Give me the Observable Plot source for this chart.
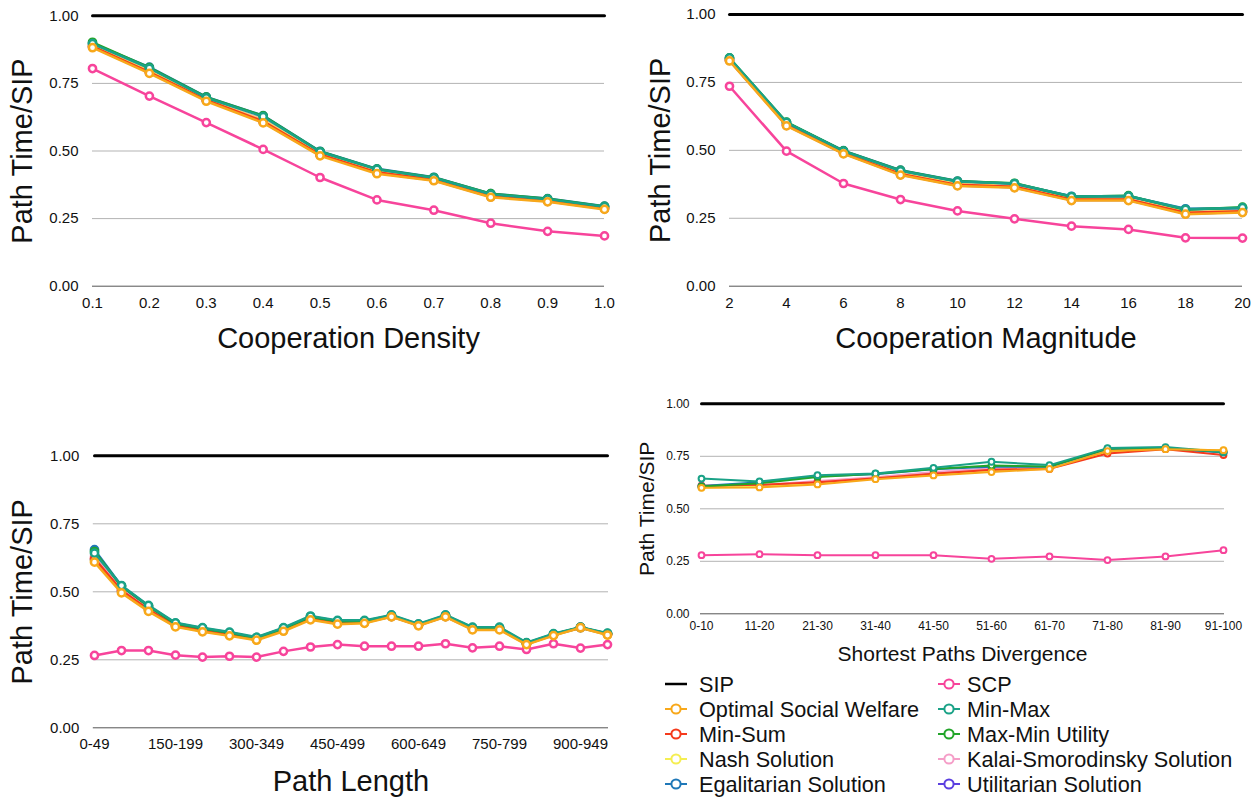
<!DOCTYPE html>
<html><head><meta charset="utf-8">
<script src="https://cdn.jsdelivr.net/npm/d3@7"></script>
<script src="https://cdn.jsdelivr.net/npm/@observablehq/plot@0.6"></script>
<style>
body{margin:0;background:#fff;font-family:"Liberation Sans",Arial,Helvetica,sans-serif;}
#root{position:relative;width:1260px;height:798px;overflow:hidden;background:#fff;}
.panel{position:absolute;}
.sw{position:absolute;}
.lt{position:absolute;font-size:21.7px;color:#111;white-space:nowrap;line-height:25px;height:25px;}
</style></head><body><div id="root"></div>
<script>
// ---------- series ----------
const seriesNames = ["SIP","Optimal Social Welfare","Min-Sum","Nash Solution","Egalitarian Solution","SCP","Min-Max","Max-Min Utility","Kalai-Smorodinsky Solution","Utilitarian Solution"];
const seriesColors = ["#000000","#f8a81a","#f53a1c","#f5ee52","#1f78b8","#f7449b","#1aa287","#22a52a","#f59ec8","#5b3fe0"];
const drawOrder = ["Utilitarian Solution","Kalai-Smorodinsky Solution","Nash Solution","Min-Sum","Egalitarian Solution","Max-Min Utility","Min-Max","SCP","Optimal Social Welfare"];
const yTicks = [0, 0.25, 0.5, 0.75, 1];
const yLabel = "Path Time/SIP";

// ---------- Cooperation Density ----------
const densityX = [0.1,0.2,0.3,0.4,0.5,0.6,0.7,0.8,0.9,1.0];
const densitySIP = [1,1,1,1,1,1,1,1,1,1];
const densityOSW = [0.882,0.787,0.684,0.604,0.482,0.416,0.390,0.329,0.312,0.284];
const densityMinSum = [0.887,0.792,0.689,0.610,0.487,0.421,0.394,0.333,0.316,0.288];
const densityNash = [0.889,0.795,0.691,0.613,0.489,0.423,0.396,0.335,0.317,0.289];
const densityEgal = [0.898,0.810,0.700,0.631,0.499,0.434,0.403,0.342,0.324,0.296];
const densitySCP = [0.805,0.703,0.605,0.506,0.402,0.319,0.281,0.233,0.203,0.186];
const densityMinMax = [0.897,0.806,0.697,0.627,0.497,0.432,0.401,0.340,0.322,0.294];
const densityMaxMin = [0.902,0.808,0.699,0.630,0.498,0.433,0.402,0.342,0.323,0.295];
const densityKS = [0.892,0.799,0.693,0.617,0.491,0.426,0.397,0.336,0.318,0.290];
const densityUtil = [0.885,0.790,0.687,0.607,0.485,0.419,0.392,0.331,0.314,0.286];

// ---------- Cooperation Magnitude ----------
const magnitudeX = [2,4,6,8,10,12,14,16,18,20];
const magnitudeSIP = [1,1,1,1,1,1,1,1,1,1];
const magnitudeOSW = [0.829,0.590,0.487,0.409,0.369,0.362,0.315,0.315,0.265,0.271];
const magnitudeMinSum = [0.832,0.594,0.490,0.413,0.373,0.366,0.319,0.319,0.270,0.276];
const magnitudeNash = [0.833,0.595,0.491,0.415,0.375,0.368,0.321,0.321,0.272,0.278];
const magnitudeEgal = [0.838,0.602,0.499,0.427,0.387,0.377,0.331,0.331,0.285,0.287];
const magnitudeSCP = [0.736,0.497,0.378,0.319,0.277,0.248,0.221,0.209,0.178,0.177];
const magnitudeMinMax = [0.840,0.603,0.497,0.425,0.385,0.378,0.330,0.332,0.283,0.289];
const magnitudeMaxMin = [0.840,0.604,0.498,0.426,0.386,0.379,0.329,0.333,0.281,0.291];
const magnitudeKS = [0.835,0.598,0.494,0.419,0.379,0.371,0.324,0.325,0.275,0.281];
const magnitudeUtil = [0.831,0.592,0.489,0.411,0.371,0.364,0.317,0.317,0.267,0.273];

// ---------- Path Length ----------
const lengthX = ["0-49","50-99","100-149","150-199","200-249","250-299","300-349","350-399","400-449","450-499","500-549","550-599","600-649","650-699","700-749","750-799","800-849","850-899","900-949","950-999"];
const lengthTicks = ["0-49","150-199","300-349","450-499","600-649","750-799","900-949"];
const lengthSIP = [1,1,1,1,1,1,1,1,1,1,1,1,1,1,1,1,1,1,1,1];
const lengthOSW = [0.609,0.496,0.428,0.371,0.353,0.338,0.322,0.355,0.397,0.381,0.384,0.408,0.375,0.408,0.360,0.360,0.306,0.339,0.368,0.341];
const lengthMinSum = [0.622,0.505,0.435,0.376,0.358,0.343,0.326,0.360,0.402,0.386,0.388,0.410,0.378,0.410,0.364,0.364,0.309,0.342,0.369,0.344];
const lengthNash = [0.615,0.499,0.431,0.373,0.355,0.340,0.324,0.357,0.399,0.383,0.386,0.409,0.377,0.409,0.362,0.362,0.307,0.340,0.368,0.342];
const lengthEgal = [0.655,0.521,0.448,0.384,0.366,0.350,0.331,0.366,0.409,0.393,0.393,0.413,0.380,0.413,0.368,0.368,0.311,0.344,0.369,0.346];
const lengthSCP = [0.266,0.284,0.284,0.267,0.260,0.263,0.260,0.281,0.297,0.306,0.300,0.300,0.300,0.309,0.294,0.300,0.288,0.309,0.293,0.306];
const lengthMinMax = [0.642,0.523,0.450,0.386,0.368,0.352,0.333,0.368,0.411,0.395,0.395,0.415,0.382,0.415,0.370,0.370,0.313,0.346,0.370,0.348];
const lengthMaxMin = [0.648,0.520,0.447,0.383,0.365,0.349,0.330,0.365,0.408,0.392,0.392,0.412,0.379,0.412,0.367,0.367,0.311,0.344,0.369,0.346];
const lengthKS = [0.630,0.510,0.440,0.379,0.361,0.346,0.328,0.362,0.405,0.389,0.390,0.411,0.379,0.411,0.366,0.366,0.310,0.343,0.369,0.345];
const lengthUtil = [0.618,0.502,0.433,0.374,0.356,0.341,0.325,0.358,0.400,0.384,0.387,0.409,0.377,0.409,0.363,0.363,0.308,0.341,0.368,0.343];

// ---------- Shortest Paths Divergence ----------
const divX = ["0-10","11-20","21-30","31-40","41-50","51-60","61-70","71-80","81-90","91-100"];
const divSIP = [1,1,1,1,1,1,1,1,1,1];
const divOSW = [0.600,0.602,0.616,0.641,0.659,0.675,0.690,0.775,0.784,0.779];
const divMinSum = [0.610,0.614,0.627,0.646,0.667,0.686,0.690,0.763,0.784,0.756];
const divNash = [0.602,0.606,0.620,0.645,0.664,0.682,0.692,0.772,0.786,0.778];
const divEgal = [0.608,0.627,0.655,0.665,0.688,0.700,0.700,0.783,0.789,0.768];
const divSCP = [0.279,0.284,0.279,0.279,0.279,0.262,0.273,0.256,0.273,0.303];
const divMinMax = [0.644,0.630,0.660,0.668,0.695,0.724,0.708,0.789,0.794,0.770];
const divMaxMin = [0.606,0.622,0.651,0.667,0.690,0.706,0.702,0.786,0.789,0.770];
const divKS = [0.607,0.612,0.632,0.650,0.675,0.692,0.695,0.778,0.787,0.772];
const divUtil = [0.605,0.610,0.628,0.648,0.672,0.690,0.694,0.776,0.786,0.770];

const color = new Map(seriesNames.map((n, i) => [n, seriesColors[i]]));
const font = "Liberation Sans, Arial, Helvetica, sans-serif";

function table(xs, cols) {
  const rows = [];
  seriesNames.forEach((name, i) => cols[i].forEach((v, j) => rows.push({x: xs[j], y: v, s: name})));
  return rows;
}

function panel(cfg) {
  const rows = table(cfg.xs, cfg.cols);
  const xScale = cfg.cat
    ? {type: "point", domain: cfg.xs, padding: 0}
    : {type: "linear", domain: [cfg.xs[0], cfg.xs[cfg.xs.length - 1]]};
  const marks = [
    Plot.gridY([0.25, 0.5, 0.75], {stroke: "#b3b3b3", strokeOpacity: 1, strokeWidth: 1}),
    Plot.ruleY([0], {stroke: "#555", strokeWidth: 1}),
    Plot.axisY({ticks: yTicks, tickFormat: d3.format(".2f"), tickSize: 0, tickPadding: cfg.yPad, fontSize: cfg.tick, label: null}),
    Plot.axisX({ticks: cfg.ticks, tickFormat: cfg.fmt, tickSize: 0, tickPadding: cfg.xPad, fontSize: cfg.tick, label: null}),
    Plot.line(rows.filter(d => d.s === "SIP"), {x: "x", y: "y", stroke: "#000", strokeWidth: 3})
  ];
  drawOrder.forEach(name => {
    const d = rows.filter(r => r.s === name);
    marks.push(Plot.line(d, {x: "x", y: "y", stroke: color.get(name), strokeWidth: cfg.sw}));
    marks.push(Plot.dot(d, {x: "x", y: "y", stroke: color.get(name), fill: "white", r: cfg.r, strokeWidth: cfg.sw}));
  });
  marks.push(Plot.text([cfg.xLabel], {text: d => d, frameAnchor: "bottom", textAnchor: "middle", lineAnchor: "middle", dy: cfg.xTitleDy, fontSize: cfg.title, fill: "#111"}));
  marks.push(Plot.text([yLabel], {text: d => d, frameAnchor: "left", textAnchor: "middle", lineAnchor: "middle", rotate: -90, dx: cfg.yTitleDx, fontSize: cfg.title, fill: "#111"}));
  const svg = Plot.plot({
    width: cfg.w, height: cfg.h,
    marginLeft: cfg.ml, marginRight: cfg.mr, marginTop: cfg.mt, marginBottom: cfg.mb,
    x: xScale,
    y: {domain: [0, 1]},
    style: {fontFamily: font, background: "transparent", overflow: "visible", color: "#111"},
    marks
  });
  svg.classList.add("panel");
  svg.style.left = cfg.left + "px";
  svg.style.top = cfg.top + "px";
  document.getElementById("root").appendChild(svg);
}

panel({left: 0, top: 0, w: 630, h: 360, ml: 92, mr: 26, mt: 15.3, mb: 74.3,
  xs: densityX, cat: false, ticks: densityX, fmt: d3.format(".1f"),
  cols: [densitySIP, densityOSW, densityMinSum, densityNash, densityEgal, densitySCP, densityMinMax, densityMaxMin, densityKS, densityUtil],
  tick: 15, title: 29, yPad: 14, xPad: 11, sw: 2.5, r: 3.6, xLabel: "Cooperation Density", xTitleDy: 52.5, yTitleDx: -70});

panel({left: 630, top: 0, w: 630, h: 360, ml: 99, mr: 18, mt: 14, mb: 74.3,
  xs: magnitudeX, cat: false, ticks: magnitudeX, fmt: d3.format("d"),
  cols: [magnitudeSIP, magnitudeOSW, magnitudeMinSum, magnitudeNash, magnitudeEgal, magnitudeSCP, magnitudeMinMax, magnitudeMaxMin, magnitudeKS, magnitudeUtil],
  tick: 15, title: 29, yPad: 14, xPad: 11, sw: 2.5, r: 3.6, xLabel: "Cooperation Magnitude", xTitleDy: 52.5, yTitleDx: -69});

panel({left: 0, top: 380, w: 630, h: 418, ml: 92.8, mr: 22, mt: 75.3, mb: 70.7,
  xs: lengthX, cat: true, ticks: lengthTicks, fmt: d => d,
  cols: [lengthSIP, lengthOSW, lengthMinSum, lengthNash, lengthEgal, lengthSCP, lengthMinMax, lengthMaxMin, lengthKS, lengthUtil],
  tick: 15, title: 29, yPad: 14, xPad: 11, sw: 2.5, r: 3.6, xLabel: "Path Length", xTitleDy: 53.5, yTitleDx: -71});

panel({left: 630, top: 380, w: 630, h: 290, ml: 70, mr: 36, mt: 23.3, mb: 56.7,
  xs: divX, cat: true, ticks: divX, fmt: d => d,
  cols: [divSIP, divOSW, divMinSum, divNash, divEgal, divSCP, divMinMax, divMaxMin, divKS, divUtil],
  tick: 12, title: 21, yPad: 11, xPad: 8, sw: 2, r: 2.9, xLabel: "Shortest Paths Divergence", xTitleDy: 40, yTitleDx: -53});

// ---------- legend ----------
const legendCol1 = ["SIP","Optimal Social Welfare","Min-Sum","Nash Solution","Egalitarian Solution"];
const legendCol2 = ["SCP","Min-Max","Max-Min Utility","Kalai-Smorodinsky Solution","Utilitarian Solution"];
const root = document.getElementById("root");
function legendItem(name, symX, textX, cy) {
  const c = color.get(name);
  const ns = "http://www.w3.org/2000/svg";
  const s = document.createElementNS(ns, "svg");
  s.setAttribute("width", 24); s.setAttribute("height", 14);
  s.classList.add("sw");
  s.style.left = (symX - 12) + "px"; s.style.top = (cy - 7) + "px";
  const ln = document.createElementNS(ns, "line");
  ln.setAttribute("x1", 1); ln.setAttribute("x2", 23); ln.setAttribute("y1", 7); ln.setAttribute("y2", 7);
  ln.setAttribute("stroke", c); ln.setAttribute("stroke-width", name === "SIP" ? 2.5 : 2);
  s.appendChild(ln);
  if (name !== "SIP") {
    const ci = document.createElementNS(ns, "circle");
    ci.setAttribute("cx", 12); ci.setAttribute("cy", 7); ci.setAttribute("r", 4.6);
    ci.setAttribute("fill", "white"); ci.setAttribute("stroke", c); ci.setAttribute("stroke-width", 2);
    s.appendChild(ci);
  }
  root.appendChild(s);
  const t = document.createElement("div");
  t.className = "lt";
  t.textContent = name;
  t.style.left = textX + "px"; t.style.top = (cy - 12.5) + "px";
  root.appendChild(t);
}
const rowY = [684, 709, 734, 759, 784];
legendCol1.forEach((n, i) => legendItem(n, 676, 699, rowY[i]));
legendCol2.forEach((n, i) => legendItem(n, 949, 967, rowY[i]));
</script>
</body></html>
